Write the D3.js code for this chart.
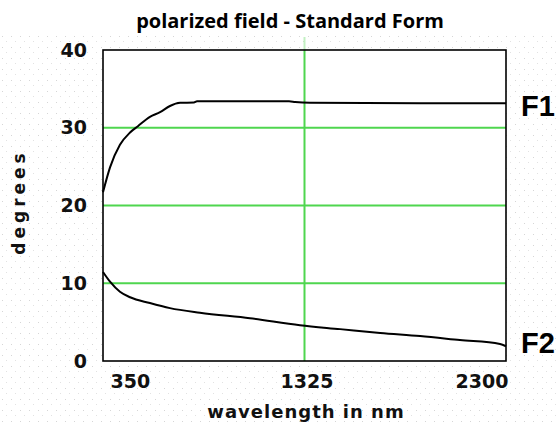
<!DOCTYPE html>
<html>
<head>
<meta charset="utf-8">
<script src="https://cdn.jsdelivr.net/npm/d3@7"></script>
<style>
  html, body { margin: 0; padding: 0; background: #fff; }
  svg { display: block; }
</style>
</head>
<body>
<svg id="chart" width="558" height="425"></svg>
<script>
// ---- data ----
const title = "polarized field - Standard Form";
const xLabel = "wavelength in nm";
const yLabel = "degrees";
const xTicks = [350, 1325, 2300];
const yTicks = [0, 10, 20, 30, 40];
const gridY = [10, 20, 30];
const gridX = [1325];
const seriesNames = ["F1", "F2"];
const f1Wavelength = [350, 384, 432, 481, 519, 577, 626, 674, 723, 790, 805, 1250, 1280, 1352, 2300];
const f1Degrees    = [21.7, 24.9, 27.8, 29.4, 30.2, 31.4, 32.0, 32.8, 33.2, 33.25, 33.4, 33.4, 33.3, 33.2, 33.15];
const f2Wavelength = [350, 384, 432, 481, 577, 674, 819, 1061, 1303, 1497, 1691, 1884, 2077, 2271, 2300];
const f2Degrees    = [11.45, 10.2, 8.9, 8.2, 7.45, 6.8, 6.2, 5.5, 4.6, 4.1, 3.6, 3.2, 2.7, 2.2, 1.9];

(function () {
// ---- layout ----
const svg = d3.select("#chart");
const pL = 103, pR = 506, pT = 50, pB = 361;
const x = d3.scaleLinear().domain([350, 2300]).range([pL, pR]);
const y = d3.scaleLinear().domain([0, 40]).range([pB, pT]);

// background dotted texture
const defs = svg.append("defs");
const pat = defs.append("pattern").attr("id", "dots").attr("patternUnits", "userSpaceOnUse")
  .attr("width", 9).attr("height", 11);
pat.append("rect").attr("x", 2).attr("y", 3).attr("width", 1).attr("height", 1).attr("fill", "#d6d6d6");
pat.append("rect").attr("x", 6).attr("y", 8).attr("width", 1).attr("height", 1).attr("fill", "#e2e2e2");
svg.append("rect").attr("width", 558).attr("height", 425).attr("fill", "#fff");
svg.append("rect").attr("y", 36).attr("width", 558).attr("height", 389).attr("fill", "url(#dots)");
svg.append("rect").attr("x", pL).attr("y", pT).attr("width", pR - pL).attr("height", pB - pT)
  .attr("fill", "#fff");

// grid
const grid = svg.append("g").attr("stroke", "#4fd64f").attr("stroke-width", 2);
grid.selectAll("line.h").data(gridY).join("line").attr("class", "h")
  .attr("x1", pL).attr("x2", pR).attr("y1", d => y(d)).attr("y2", d => y(d));
grid.selectAll("line.v").data(gridX).join("line").attr("class", "v")
  .attr("x1", d => x(d)).attr("x2", d => x(d)).attr("y1", pT).attr("y2", pB);
grid.selectAll("line.ve").data(gridX).join("line").attr("class", "ve")
  .attr("x1", d => x(d)).attr("x2", d => x(d)).attr("y1", pT - 13).attr("y2", pT)
  .attr("stroke-opacity", 0.35);

// curves
const line = d3.line().x(d => x(d[0])).y(d => y(d[1])).curve(d3.curveMonotoneX);
const series = [
  d3.zip(f1Wavelength, f1Degrees),
  d3.zip(f2Wavelength, f2Degrees)
];
svg.append("g").selectAll("path").data(series).join("path")
  .attr("d", line).attr("fill", "none").attr("stroke", "#000").attr("stroke-width", 2);

// frame
svg.append("rect").attr("x", pL).attr("y", pT).attr("width", pR - pL).attr("height", pB - pT)
  .attr("fill", "none").attr("stroke", "#000").attr("stroke-width", 1.6);

// axes
const tickFont = "'DejaVu Sans', sans-serif";
const yAxis = svg.append("g").attr("transform", `translate(${pL},0)`)
  .call(d3.axisLeft(y).tickValues(yTicks).tickSize(0).tickPadding(16).tickFormat(d3.format("d")));
const xAxis = svg.append("g").attr("transform", `translate(0,${pB})`)
  .call(d3.axisBottom(x).tickValues(xTicks).tickSize(0).tickPadding(14).tickFormat(d3.format("d")));
[yAxis, xAxis].forEach(a => {
  a.select(".domain").remove();
  a.selectAll("text").attr("font-family", tickFont).attr("font-weight", "bold")
    .attr("font-size", 19).attr("fill", "#111");
});
xAxis.selectAll(".tick text").attr("text-anchor", (d, i) => i === 0 ? "start" : (i === xTicks.length - 1 ? "end" : "middle"))
  .attr("dx", (d, i) => i === 0 ? 7 : 2);

// axis titles
svg.append("text").attr("x", 306).attr("y", 418).attr("text-anchor", "middle")
  .attr("font-family", tickFont).attr("font-weight", "bold").attr("font-size", 18)
  .attr("letter-spacing", 1).attr("fill", "#111").text(xLabel);
svg.append("text").attr("transform", "translate(25,202) rotate(-90)").attr("text-anchor", "middle")
  .attr("font-family", tickFont).attr("font-weight", "bold").attr("font-size", 17)
  .attr("letter-spacing", 4).attr("fill", "#111").text(yLabel);

// series labels
const lastVals = [f1Degrees[f1Degrees.length - 1], f2Degrees[f2Degrees.length - 1]];
svg.append("g").selectAll("text").data(seriesNames).join("text")
  .attr("x", 521).attr("y", (d, i) => i === 0 ? y(lastVals[i]) + 13 : y(lastVals[i]) + 7)
  .attr("font-family", "'Liberation Sans', Arial, sans-serif").attr("font-weight", "bold")
  .attr("font-size", 29).attr("fill", "#000").text(d => d);

// title
svg.append("text").attr("x", 290).attr("y", 28).attr("text-anchor", "middle")
  .attr("font-family", "'Open Sans', sans-serif").attr("font-weight", "bold").attr("font-size", 20)
  .attr("fill", "#000").text(title);
})();
</script>
</body>
</html>
